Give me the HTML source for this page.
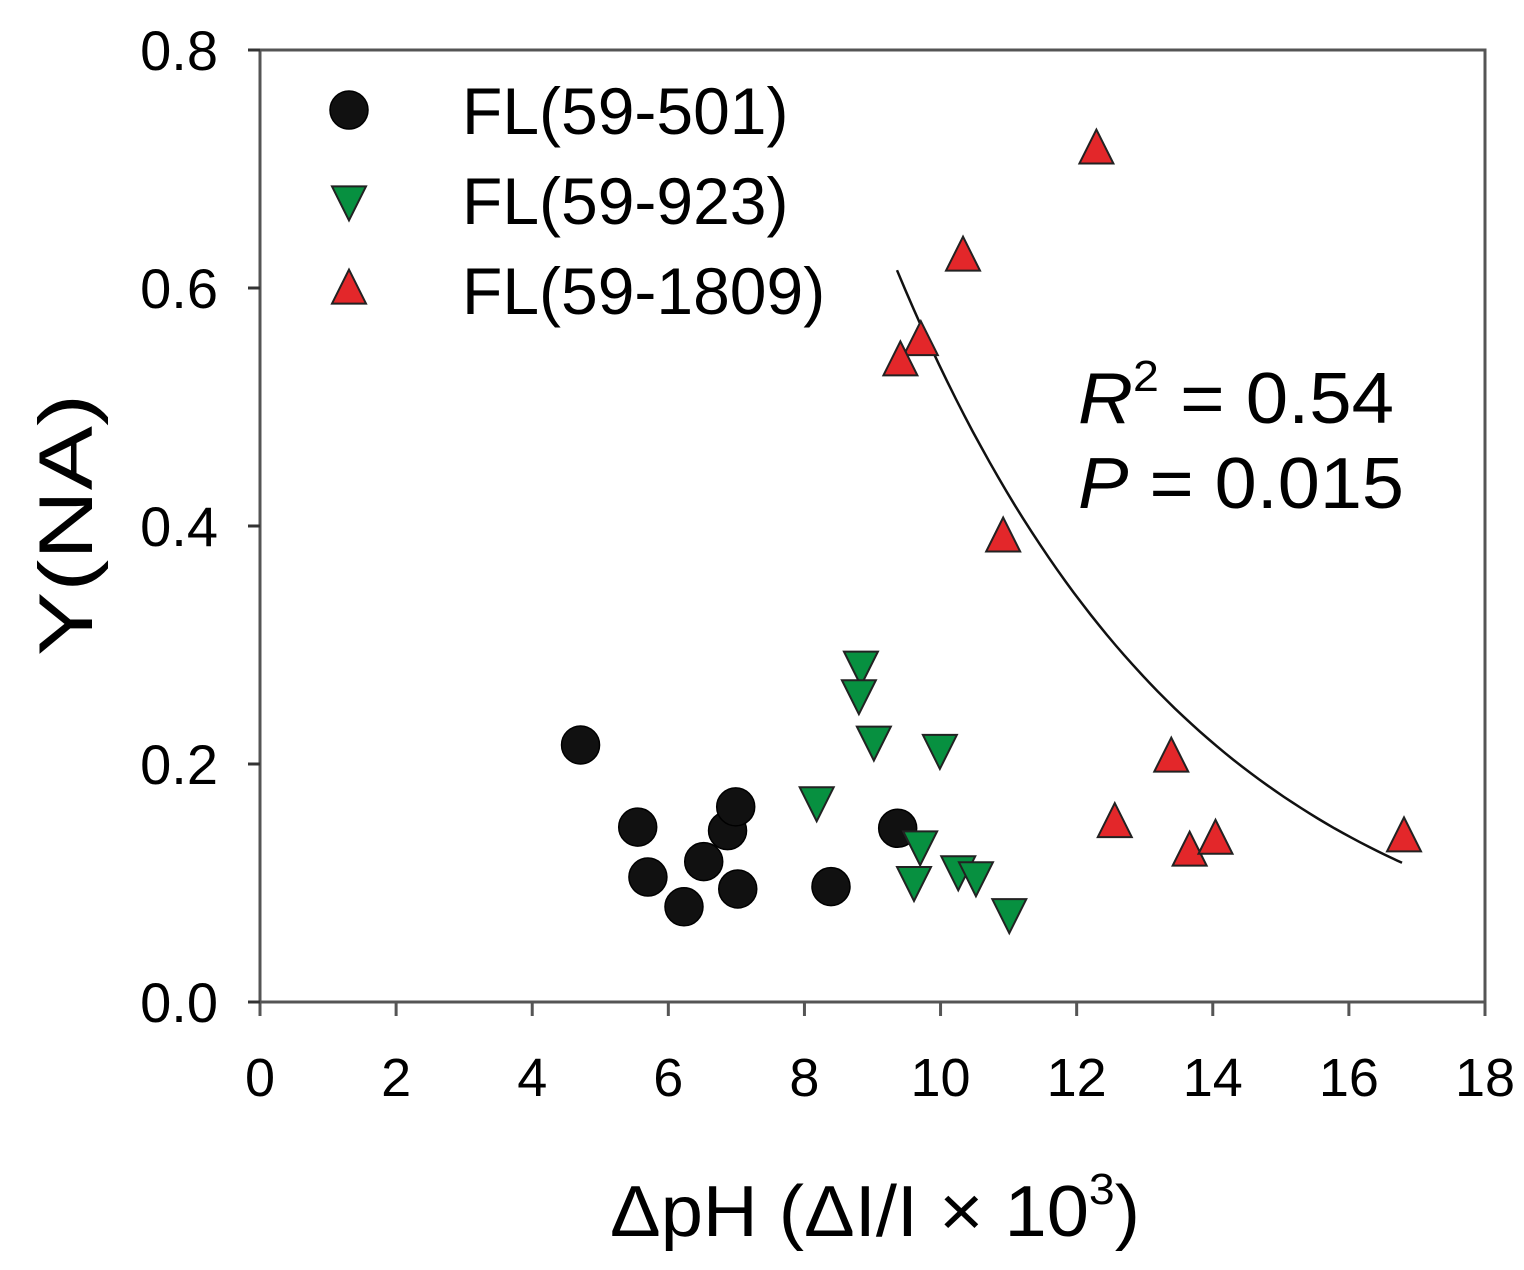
<!DOCTYPE html>
<html><head><meta charset="utf-8"><style>
html,body{margin:0;padding:0;background:#fff;}
svg{display:block;font-family:"Liberation Sans",Arial,sans-serif;}
</style></head><body>
<svg id="chart" width="1524" height="1270" viewBox="0 0 1524 1270">
<g id="axes"></g>
<g id="marks"></g>
<g id="legend"></g>
<text x="1078" y="423" font-size="72" textLength="316" lengthAdjust="spacingAndGlyphs"><tspan font-style="italic">R</tspan><tspan dy="-32" font-size="44">2</tspan><tspan dy="32"> = 0.54</tspan></text>
<text x="1078" y="508" font-size="72" textLength="326" lengthAdjust="spacingAndGlyphs"><tspan font-style="italic">P</tspan> = 0.015</text>
<text x="610" y="1236" font-size="72" textLength="530" lengthAdjust="spacingAndGlyphs">ΔpH (ΔI/I × 10<tspan dy="-32" font-size="44">3</tspan><tspan dy="32">)</tspan></text>
<text transform="translate(92,525) rotate(-90)" font-size="76" text-anchor="middle" textLength="262" lengthAdjust="spacingAndGlyphs">Y(NA)</text>
</svg>
<script>
const xTicks = [0,2,4,6,8,10,12,14,16,18];
const yTicks = [0.0,0.2,0.4,0.6,0.8];
const yTickLabels = ["0.0","0.2","0.4","0.6","0.8"];
const seriesNames = ["FL(59-501)","FL(59-923)","FL(59-1809)"];
const s501X = [4.71,5.55,5.70,6.23,6.52,6.87,6.99,7.02,8.39,9.37];
const s501Y = [0.216,0.147,0.105,0.080,0.118,0.144,0.164,0.095,0.097,0.146];
const s923X = [8.83,8.80,9.02,9.99,8.18,9.70,9.61,10.26,10.52,11.01];
const s923Y = [0.283,0.259,0.220,0.213,0.169,0.132,0.102,0.111,0.106,0.075];
const s1809X = [12.29,10.33,9.71,9.41,10.92,13.39,12.56,13.66,14.04,16.81];
const s1809Y = [0.716,0.626,0.555,0.538,0.390,0.205,0.150,0.126,0.136,0.138];
const fitCoef = [0.615*Math.exp(0.2237*9.36), 0.2237]; // y = a*exp(-b*x)
const fitRange = [9.36,16.78];

const NS="http://www.w3.org/2000/svg";
const X0=260,X1=1485,Y0=1002,Y1=50;
const sx=v=>X0+(v-0)/(18-0)*(X1-X0);
const sy=v=>Y0-(v-0)/(0.8-0)*(Y0-Y1);
function mk(tag,attrs,parent){const e=document.createElementNS(NS,tag);for(const k in attrs)e.setAttribute(k,attrs[k]);parent.appendChild(e);return e;}
const axes=document.getElementById('axes');
const frame=mk('rect',{x:X0,y:Y1,width:X1-X0,height:Y0-Y1,fill:'none',stroke:'#555','stroke-width':3},axes);


xTicks.forEach(t=>{
  const l=mk('line',{x1:sx(t),x2:sx(t),y1:Y0,y2:Y0+14,stroke:'#555','stroke-width':3},axes);
  
  
  const tx=mk('text',{x:sx(t),y:1096,'font-size':54,'text-anchor':'middle'},axes);
  tx.textContent=String(t);
  
  
});
yTicks.forEach((t,i)=>{
  const l=mk('line',{x1:X0-12,x2:X0,y1:sy(t),y2:sy(t),stroke:'#333','stroke-width':3},axes);
  
  
  const tx=mk('text',{x:218,y:sy(t)+20,'font-size':56,'text-anchor':'end'},axes);
  tx.textContent=yTickLabels[i];
  
  
});
const marks=document.getElementById('marks');
function circle(x,y,p){return mk('circle',{cx:x,cy:y,r:19,fill:'#111',stroke:'#000','stroke-width':1.5},p);}
function tri(x,y,up,fill,p){const h=34,w=34;const pts=up?`${x},${y-h*0.6} ${x-w/2},${y+h*0.4} ${x+w/2},${y+h*0.4}`:`${x},${y+h*0.6} ${x-w/2},${y-h*0.4} ${x+w/2},${y-h*0.4}`;return mk('polygon',{points:pts,fill:fill,stroke:'#222','stroke-width':2},p);}
let d='';for(let i=0;i<=60;i++){const x=fitRange[0]+(fitRange[1]-fitRange[0])*i/60;const y=fitCoef[0]*Math.exp(-fitCoef[1]*x);d+=(i?'L':'M')+sx(x).toFixed(1)+','+sy(y).toFixed(1);}
const fit=mk('path',{d:d,fill:'none',stroke:'#111','stroke-width':2.5},marks);


s501X.forEach((x,i)=>{const e=circle(sx(x),sy(s501Y[i]),marks);

});
s923X.forEach((x,i)=>{const e=tri(sx(x),sy(s923Y[i]),false,'#079040',marks);

});
s1809X.forEach((x,i)=>{const e=tri(sx(x),sy(s1809Y[i]),true,'#e3272a',marks);

});
const lg=document.getElementById('legend');
const ly=[110,200,290];
seriesNames.forEach((n,i)=>{
  let m;
  if(i===0)m=circle(349,ly[i],lg);else m=tri(349,ly[i],i===2,i===1?'#079040':'#e3272a',lg);
  
  
  const t=mk('text',{x:462,y:ly[i]+24,'font-size':66},lg);
  t.textContent=n;
  
  
});
</script>
</body></html>
